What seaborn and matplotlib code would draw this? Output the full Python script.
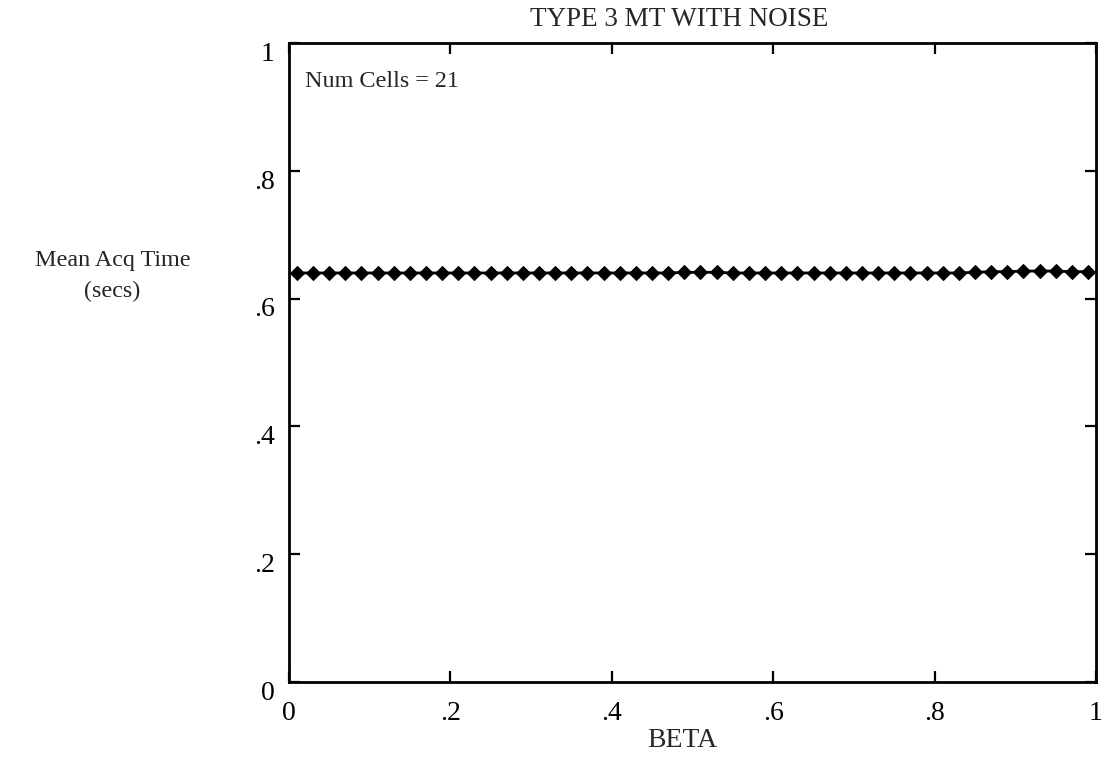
import matplotlib
matplotlib.use("Agg")
import matplotlib.pyplot as plt
import matplotlib.transforms as mtransforms
import seaborn as sns
import numpy as np
import pandas as pd

# Data
beta = [round(0.01 + 0.02 * i, 2) for i in range(50)]
mean_acq_time = [0.640, 0.640, 0.640, 0.640, 0.640, 0.640, 0.640, 0.640, 0.640, 0.640,
                 0.640, 0.640, 0.640, 0.640, 0.640, 0.640, 0.640, 0.640, 0.640, 0.640,
                 0.640, 0.640, 0.640, 0.640, 0.641, 0.641, 0.641, 0.640, 0.640, 0.640,
                 0.640, 0.640, 0.640, 0.640, 0.640, 0.640, 0.640, 0.640, 0.640, 0.640,
                 0.640, 0.640, 0.641, 0.642, 0.642, 0.643, 0.643, 0.643, 0.642, 0.642]
x_ticks = [0, 0.2, 0.4, 0.6, 0.8, 1.0]
x_ticklabels = ["0", ".2", ".4", ".6", ".8", "1"]
y_ticks = [0, 0.2, 0.4, 0.6, 0.8, 1.0]
y_ticklabels = ["0", ".2", ".4", ".6", ".8", "1"]

df = pd.DataFrame({"BETA": beta, "MeanAcqTime": mean_acq_time})

sns.set_theme(style="white")
plt.rcParams['font.family'] = ['Liberation Serif', 'DejaVu Serif']

fig = plt.figure(figsize=(11.15, 7.67), dpi=100)
ax = fig.add_axes([0.259, 0.111, 0.724, 0.833])

sns.lineplot(data=df, x="BETA", y="MeanAcqTime", ax=ax, color="black",
             marker="D", markersize=7.5, markeredgecolor="black",
             markerfacecolor="black", linewidth=2.0)

ax.set_xlim(0, 1)
ax.set_ylim(0, 1)
ax.set_xticks(x_ticks)
ax.set_xticklabels(x_ticklabels)
ax.set_yticks(y_ticks)
ax.set_yticklabels(y_ticklabels)
ax.tick_params(direction="in", length=8, width=1.6, top=True, right=True,
               bottom=True, left=True, labelsize=20, colors="black")
ax.tick_params(axis="y", pad=10)
ax.tick_params(axis="x", pad=14)
for s in ax.spines.values():
    s.set_visible(True)
    s.set_linewidth(2.0)
    s.set_color("black")

# y tick labels sit slightly below their ticks in the reference
offset = mtransforms.ScaledTranslation(0, -6 / 72, fig.dpi_scale_trans)
for lab in ax.get_yticklabels():
    lab.set_transform(lab.get_transform() + offset)

ax.set_xlabel("BETA", fontsize=20)
ax.xaxis.set_label_coords(0.488, -0.092)
ax.xaxis.label.set_va("center")
ax.set_ylabel("")
fig.text(0.609, 0.974, "TYPE 3 MT WITH NOISE", ha="center", va="center",
         fontsize=19.5)
fig.text(0.101, 0.640, "Mean Acq Time\n(secs)", ha="center", va="center",
         fontsize=17.4, linespacing=1.6)
ax.text(0.02, 0.939, "Num Cells = 21", transform=ax.transAxes,
        fontsize=17.4, ha="left", va="center")

fig.savefig("out.png", dpi=100, facecolor="white")
